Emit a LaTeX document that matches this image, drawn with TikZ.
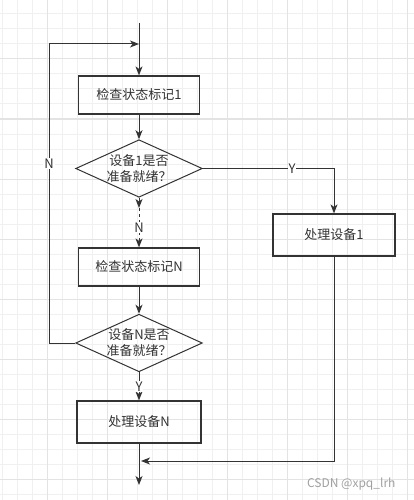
\documentclass[tikz,border=0pt]{standalone}
\usepackage{fontspec}
\setmainfont{Noto Sans CJK SC}
\usetikzlibrary{shapes.geometric,arrows.meta}
\definecolor{ink}{HTML}{333333}
\definecolor{gridlt}{HTML}{F0F0F0}
\definecolor{griddk}{HTML}{E3E3E3}
\definecolor{mark}{HTML}{A0A0A0}

\begin{document}
\begin{tikzpicture}[x=1pt, y=-1pt, font=\fontsize{13}{16}\selectfont,
  >={Stealth[length=9pt,width=7pt,inset=2.5pt]},
  box/.style={draw=ink, line width=1.2pt, text=ink, minimum width=121pt,
    minimum height=38pt, inner sep=0pt},
  cond/.style={diamond, draw=ink, line width=1pt, text=ink, align=center,
    aspect=2.2, minimum width=120pt, minimum height=55pt, inner sep=0pt},
  flow/.style={draw=ink, line width=1pt, ->},
  lbl/.style={fill=white, text=ink, inner sep=1pt, font=\fontsize{13}{15}\selectfont}]
  \useasboundingbox (0,0) rectangle (414,500);
  % 背景网格
  \fill[white] (0,0) rectangle (414,500);
  \foreach \gx in {2,17,...,407} \draw[gridlt, line width=1pt] (\gx,0) -- (\gx,500);
  \foreach \gy in {14,29,...,494} \draw[gridlt, line width=1pt] (0,\gy) -- (414,\gy);
  \foreach \gx in {47,107,...,407} \draw[griddk, line width=1pt] (\gx,0) -- (\gx,500);
  \foreach \gy in {59,119,...,479} \draw[griddk, line width=1pt] (0,\gy) -- (414,\gy);
  % 主流程
  \node[box] (chk1) at (139,95) {检查状态标记1};
  \node[cond] (d1) at (139,168.5) {设备1是否\\准备就绪？};
  \node[box] (chk2) at (139,267) {检查状态标记N};
  \node[cond] (d2) at (139,343) {设备N是否\\准备就绪？};
  \node[box, minimum width=124pt, minimum height=42pt] (devN) at (139,422) {处理设备N};
  \node[box, minimum width=122pt, minimum height=42pt] (dev1) at (334,235) {处理设备1};
  \coordinate (start) at (139,23);
  \coordinate (join) at (139,44);
  \coordinate (loop) at (49,44);
  \coordinate (gap) at (139,208);
  \coordinate (back) at (141,461);
  \coordinate (finish) at (139,485);
  % 连线
  \draw[flow] (start) -- (chk1);
  \draw[flow] (chk1) -- (d1);
  \draw[flow] (d1.south) -- (gap);
  \draw[flow, dash pattern=on 3pt off 3pt] (gap) -- node[lbl] {N} (chk2);
  \draw[flow] (chk2) -- (d2);
  \draw[flow] (d2) -- node[lbl] {Y} (devN);
  \draw[flow] (devN) -- (finish);
  \draw[flow] (d1.east) -| node[lbl, pos=0.34] {Y} (dev1);
  \draw[flow] (dev1) |- (back);
  \draw[flow] (d2.west) -| node[lbl, pos=0.8] {N} (loop) -- (join);
  % 水印
  \node[text=mark, font=\fontsize{12}{14}\selectfont, anchor=east] (wm) at (399,484) {CSDN @xpq\_lrh};
\end{tikzpicture}
\end{document}
